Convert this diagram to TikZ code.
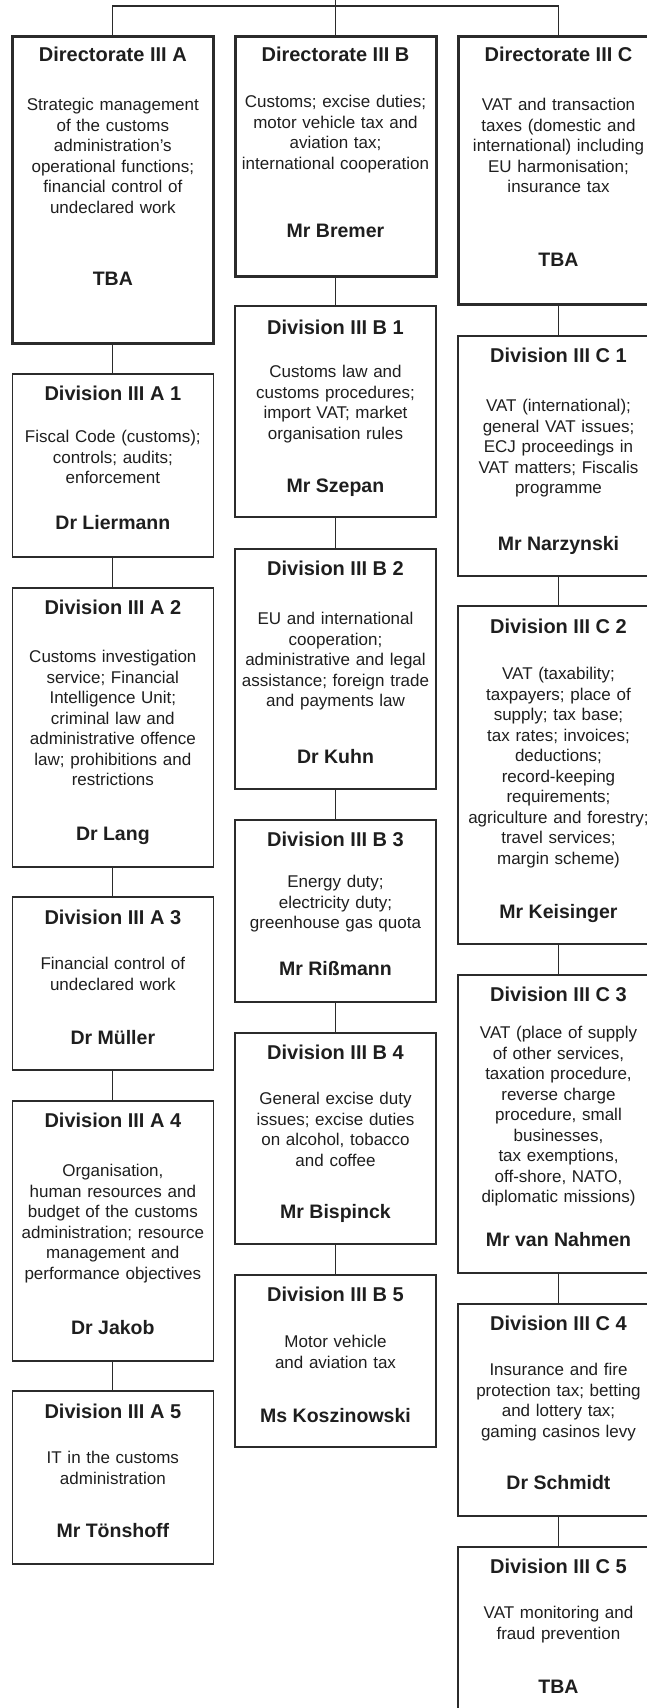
\documentclass[tikz,border=0pt]{standalone}
\usepackage{fontspec}
\setmainfont{Liberation Sans}
\definecolor{boxline}{HTML}{2B2B2B}
\definecolor{boxink}{HTML}{1E1E1E}

\begin{document}
\begin{tikzpicture}[x=1pt, y=-1pt,
    dirbox/.style={draw=boxline, line width=3pt, minimum width=201pt, inner sep=0pt, outer sep=0pt, anchor=north},
    divbox/.style={draw=boxline, line width=1.2pt, minimum width=201pt, inner sep=0pt, outer sep=0pt, anchor=north},
    boxtitle/.style={font=\fontsize{20}{24}\selectfont\bfseries, text=boxink, inner sep=0pt, anchor=base},
    boxtext/.style={font=\fontsize{17}{20.5}\selectfont, text=boxink, text width=200pt, align=center, inner sep=0pt, anchor=base},
    boxname/.style={font=\fontsize{19.5}{24}\selectfont\bfseries, text=boxink, inner sep=0pt, anchor=base},
    link/.style={draw=boxline, line width=1.2pt}]
    \useasboundingbox (0,0) rectangle (647,1708);
    \clip (0,0) rectangle (647,1708);

    \begin{scope}
        \node[dirbox, minimum height=307pt] (dirA) at (112.85,36) {};
        \node[boxtitle] (dirAtitle) at (112.85,61) {Directorate III A};
        \node[boxtext] (dirAtext) at (112.85,110.5) {Strategic management\\of the customs\\administration’s\\operational functions;\\financial control of\\undeclared work};
        \node[boxname] (dirAname) at (112.85,285) {TBA};

        \node[divbox, minimum height=183pt] (a1) at (112.85,374) {};
        \node[boxtitle] (a1title) at (112.85,400) {Division III A 1};
        \node[boxtext] (a1text) at (112.85,442.5) {Fiscal Code (customs);\\controls; audits;\\enforcement};
        \node[boxname] (a1name) at (112.85,529) {Dr Liermann};

        \node[divbox, minimum height=279pt] (a2) at (112.85,588) {};
        \node[boxtitle] (a2title) at (112.85,614) {Division III A 2};
        \node[boxtext] (a2text) at (112.85,662.5) {Customs investigation\\service; Financial\\Intelligence Unit;\\criminal law and\\administrative offence\\law; prohibitions and\\restrictions};
        \node[boxname] (a2name) at (112.85,840) {Dr Lang};

        \node[divbox, minimum height=173pt] (a3) at (112.85,897) {};
        \node[boxtitle] (a3title) at (112.85,924) {Division III A 3};
        \node[boxtext] (a3text) at (112.85,969.5) {Financial control of\\undeclared work};
        \node[boxname] (a3name) at (112.85,1044) {Dr Müller};

        \node[divbox, minimum height=260pt] (a4) at (112.85,1101) {};
        \node[boxtitle] (a4title) at (112.85,1127) {Division III A 4};
        \node[boxtext] (a4text) at (112.85,1176.5) {Organisation,\\human resources and\\budget of the customs\\administration; resource\\management and\\performance objectives};
        \node[boxname] (a4name) at (112.85,1334) {Dr Jakob};

        \node[divbox, minimum height=173pt] (a5) at (112.85,1391) {};
        \node[boxtitle] (a5title) at (112.85,1418) {Division III A 5};
        \node[boxtext] (a5text) at (112.85,1463.5) {IT in the customs\\administration};
        \node[boxname] (a5name) at (112.85,1537) {Mr Tönshoff};
    \end{scope}

    \begin{scope}
        \node[dirbox, minimum height=240pt] (dirB) at (335.5,36) {};
        \node[boxtitle] (dirBtitle) at (335.5,61) {Directorate III B};
        \node[boxtext] (dirBtext) at (335.5,107.5) {Customs; excise duties;\\motor vehicle tax and\\aviation tax;\\international cooperation};
        \node[boxname] (dirBname) at (335.5,237) {Mr Bremer};

        \node[divbox, minimum height=211pt] (b1) at (335.5,306) {};
        \node[boxtitle] (b1title) at (335.5,334) {Division III B 1};
        \node[boxtext] (b1text) at (335.5,377.5) {Customs law and\\customs procedures;\\import VAT; market\\organisation rules};
        \node[boxname] (b1name) at (335.5,492) {Mr Szepan};

        \node[divbox, minimum height=240pt] (b2) at (335.5,549) {};
        \node[boxtitle] (b2title) at (335.5,575) {Division III B 2};
        \node[boxtext] (b2text) at (335.5,624.5) {EU and international\\cooperation;\\administrative and legal\\assistance; foreign trade\\and payments law};
        \node[boxname] (b2name) at (335.5,763) {Dr Kuhn};

        \node[divbox, minimum height=182pt] (b3) at (335.5,820) {};
        \node[boxtitle] (b3title) at (335.5,846) {Division III B 3};
        \node[boxtext] (b3text) at (335.5,887.5) {Energy duty;\\electricity duty;\\greenhouse gas quota};
        \node[boxname] (b3name) at (335.5,975) {Mr Rißmann};

        \node[divbox, minimum height=211pt] (b4) at (335.5,1033) {};
        \node[boxtitle] (b4title) at (335.5,1059) {Division III B 4};
        \node[boxtext] (b4text) at (335.5,1104.5) {General excise duty\\issues; excise duties\\on alcohol, tobacco\\and coffee};
        \node[boxname] (b4name) at (335.5,1218) {Mr Bispinck};

        \node[divbox, minimum height=172pt] (b5) at (335.5,1275) {};
        \node[boxtitle] (b5title) at (335.5,1301) {Division III B 5};
        \node[boxtext] (b5text) at (335.5,1347.5) {Motor vehicle\\and aviation tax};
        \node[boxname] (b5name) at (335.5,1422) {Ms Koszinowski};
    \end{scope}

    \begin{scope}
        \node[dirbox, minimum height=268pt] (dirC) at (558.5,36) {};
        \node[boxtitle] (dirCtitle) at (558.5,61) {Directorate III C};
        \node[boxtext] (dirCtext) at (558.5,110.5) {VAT and transaction\\taxes (domestic and\\international) including\\EU harmonisation;\\insurance tax};
        \node[boxname] (dirCname) at (558.5,266) {TBA};

        \node[divbox, minimum height=240pt] (c1) at (558.5,336) {};
        \node[boxtitle] (c1title) at (558.5,362) {Division III C 1};
        \node[boxtext] (c1text) at (558.5,411.5) {VAT (international);\\general VAT issues;\\ECJ proceedings in\\VAT matters; Fiscalis\\programme};
        \node[boxname] (c1name) at (558.5,550) {Mr Narzynski};

        \node[divbox, minimum height=338pt] (c2) at (558.5,606) {};
        \node[boxtitle] (c2title) at (558.5,633) {Division III C 2};
        \node[boxtext] (c2text) at (558.5,679.5) {VAT (taxability;\\taxpayers; place of\\supply; tax base;\\tax rates; invoices;\\deductions;\\record-keeping\\requirements;\\agriculture and forestry;\\travel services;\\margin scheme)};
        \node[boxname] (c2name) at (558.5,918) {Mr Keisinger};

        \node[divbox, minimum height=298pt] (c3) at (558.5,975) {};
        \node[boxtitle] (c3title) at (558.5,1001) {Division III C 3};
        \node[boxtext] (c3text) at (558.5,1038.5) {VAT (place of supply\\of other services,\\taxation procedure,\\reverse charge\\procedure, small\\businesses,\\tax exemptions,\\off-shore, NATO,\\diplomatic missions)};
        \node[boxname] (c3name) at (558.5,1246) {Mr van Nahmen};

        \node[divbox, minimum height=212pt] (c4) at (558.5,1304) {};
        \node[boxtitle] (c4title) at (558.5,1330) {Division III C 4};
        \node[boxtext] (c4text) at (558.5,1375.5) {Insurance and fire\\protection tax; betting\\and lottery tax;\\gaming casinos levy};
        \node[boxname] (c4name) at (558.5,1489) {Dr Schmidt};

        \node[divbox, minimum height=200pt] (c5) at (558.5,1547) {};
        \node[boxtitle] (c5title) at (558.5,1573) {Division III C 5};
        \node[boxtext] (c5text) at (558.5,1618.5) {VAT monitoring and\\fraud prevention};
        \node[boxname] (c5name) at (558.5,1693) {TBA};
    \end{scope}

    \coordinate (top) at (335.5,0);
    \coordinate (bar) at (335.5,6);
    \draw[link] (top) -- (dirB.north);
    \draw[link] (dirA.north) |- (bar) -| (dirC.north);

    \draw[link] (dirA.south) -- (a1.north);
    \draw[link] (a1.south) -- (a2.north);
    \draw[link] (a2.south) -- (a3.north);
    \draw[link] (a3.south) -- (a4.north);
    \draw[link] (a4.south) -- (a5.north);

    \draw[link] (dirB.south) -- (b1.north);
    \draw[link] (b1.south) -- (b2.north);
    \draw[link] (b2.south) -- (b3.north);
    \draw[link] (b3.south) -- (b4.north);
    \draw[link] (b4.south) -- (b5.north);

    \draw[link] (dirC.south) -- (c1.north);
    \draw[link] (c1.south) -- (c2.north);
    \draw[link] (c2.south) -- (c3.north);
    \draw[link] (c3.south) -- (c4.north);
    \draw[link] (c4.south) -- (c5.north);
\end{tikzpicture}
\end{document}
